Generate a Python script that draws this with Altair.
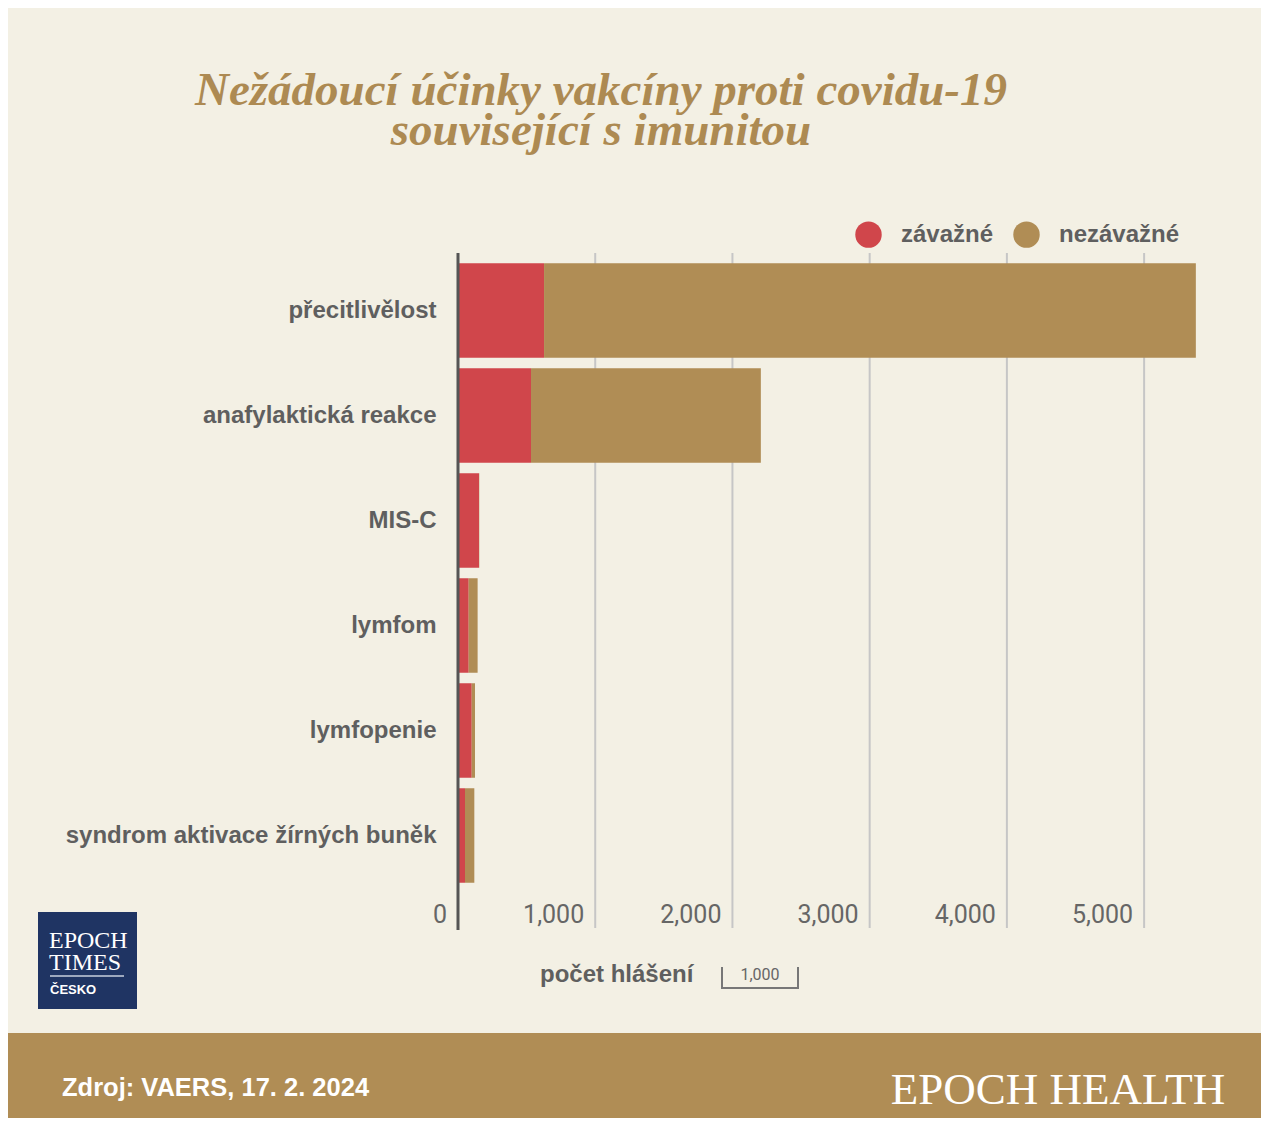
import altair as alt
import pandas as pd

# ---------------- data ----------------
categories = [
    "přecitlivělost",
    "anafylaktická reakce",
    "MIS-C",
    "lymfom",
    "lymfopenie",
    "syndrom aktivace žírných buněk",
]
serious = [627, 532, 153, 78, 100, 51]
non_serious = [4750, 1675, 2, 65, 24, 68]
series = ["závažné", "nezávažné"]
series_colors = ["#d0464b", "#b08d55"]
grid_values = [1000, 2000, 3000, 4000, 5000]
tick_values = [0, 1000, 2000, 3000, 4000, 5000]
tick_labels = ["0", "1,000", "2,000", "3,000", "4,000", "5,000"]

title_line1 = "Nežádoucí účinky vakcíny proti covidu-19"
title_line2 = "související s imunitou"
axis_title = "počet hlášení"
scale_label = "1,000"
source_text = "Zdroj: VAERS, 17. 2. 2024"
brand_text = "EPOCH HEALTH"
logo_lines = ["EPOCH", "TIMES", "ČESKO"]

BG = "#f3f0e4"
GOLD = "#b08d55"
GRAY = "#5f5f5f"

rows = []
for c, s, n in zip(categories, serious, non_serious):
    rows.append({"kategorie": c, "typ": series[0], "počet": s, "pořadí": 0})
    rows.append({"kategorie": c, "typ": series[1], "počet": n, "pořadí": 1})
df = pd.DataFrame(rows)
grid_df = pd.DataFrame({"v": grid_values})
zero_df = pd.DataFrame({"v": [0]})
ticks_df = pd.DataFrame({"v": tick_values, "label": tick_labels})

xscale = alt.Scale(domain=[0, 5400], nice=False, zero=True)

grid = alt.Chart(grid_df).mark_rule(color="#c6c6c6", strokeWidth=2).encode(
    x=alt.X("v:Q", scale=xscale, axis=None),
    y=alt.value(-5),
    y2=alt.value(670),
)

bars = alt.Chart(df).mark_bar().encode(
    x=alt.X("počet:Q", stack="zero", scale=xscale, axis=None),
    y=alt.Y(
        "kategorie:N",
        sort=categories,
        scale=alt.Scale(paddingInner=0.1, paddingOuter=0.05),
        axis=alt.Axis(
            title=None, ticks=False, domain=False, labelPadding=22,
            labelFont="Liberation Sans", labelFontSize=24, labelFontWeight="bold",
            labelColor=GRAY, labelLimit=600,
        ),
    ),
    color=alt.Color(
        "typ:N",
        scale=alt.Scale(domain=series, range=series_colors),
        legend=alt.Legend(
            orient="none", legendX=397, legendY=-37, direction="horizontal",
            title=None, symbolType="circle", symbolSize=700, symbolStrokeWidth=0,
            labelFont="Liberation Sans", labelFontSize=24, labelFontWeight="bold",
            labelColor=GRAY, labelOffset=19, columnPadding=19, padding=0,
        ),
    ),
    order=alt.Order("pořadí:Q"),
)

axis_line = alt.Chart(zero_df).mark_rule(color="#555555", strokeWidth=3).encode(
    x=alt.X("v:Q", scale=xscale, axis=None),
    y=alt.value(-5),
    y2=alt.value(672),
)

tick_text = alt.Chart(ticks_df).mark_text(
    align="right", baseline="alphabetic", dx=-11, font="Roboto", fontSize=25, color="#666666"
).encode(
    x=alt.X("v:Q", scale=xscale, axis=None),
    y=alt.value(665),
    text="label:N",
)


def text_layer(txt, x, y, **kw):
    return alt.Chart(pd.DataFrame({"t": [txt]})).mark_text(**kw).encode(
        x=alt.value(x), y=alt.value(y), text="t:N"
    )


def rect_layer(x, x2, y, y2, color):
    return alt.Chart(pd.DataFrame({"a": [1]})).mark_rect(color=color).encode(
        x=alt.value(x), x2=alt.value(x2), y=alt.value(y), y2=alt.value(y2)
    )


def rule_layer(x, x2, y, y2, color, w):
    return alt.Chart(pd.DataFrame({"a": [1]})).mark_rule(color=color, strokeWidth=w).encode(
        x=alt.value(x), x2=alt.value(x2), y=alt.value(y), y2=alt.value(y2)
    )


serif_title = dict(font="Liberation Serif", fontSize=47, fontStyle="italic", fontWeight="bold",
                   color="#ad8a52", align="center", baseline="alphabetic")
title1 = text_layer(title_line1, 143, -153, **serif_title)
title2 = text_layer(title_line2, 143, -113, **serif_title)

axis_lbl = text_layer(axis_title, 82, 724, font="Liberation Sans", fontSize=24, fontWeight="bold",
                      color=GRAY, align="left", baseline="alphabetic")
br_left = rule_layer(264, 264, 709, 730, "#777777", 2)
br_right = rule_layer(340, 340, 709, 730, "#777777", 2)
br_bottom = rule_layer(263, 341, 730, 730, "#777777", 2)
br_text = text_layer(scale_label, 302, 722, font="Roboto", fontSize=16, color="#666666",
                     align="center", baseline="alphabetic")

logo_box = rect_layer(-420, -321, 654, 751, "#1f3463")
logo1 = text_layer(logo_lines[0], -409, 690, font="Liberation Serif", fontSize=24, color="white",
                   align="left", baseline="alphabetic")
logo2 = text_layer(logo_lines[1], -409, 712, font="Liberation Serif", fontSize=24, color="white",
                   align="left", baseline="alphabetic")
logo_rule = rule_layer(-408, -334, 718, 718, "#c9cfdc", 1.5)
logo3 = text_layer(logo_lines[2], -408, 736, font="Liberation Sans", fontSize=13, fontWeight="bold",
                   color="white", align="left", baseline="alphabetic")

footer = rect_layer(-450, 820, 775, 880, GOLD)
source = text_layer(source_text, -396, 838, font="Liberation Sans", fontSize=25.5, fontWeight="bold",
                    color="white", align="left", baseline="alphabetic")
brand = text_layer(brand_text, 600, 846, font="Liberation Serif", fontSize=45, color="white",
                   align="center", baseline="alphabetic")

chart = alt.layer(
    grid, bars, axis_line, tick_text,
    title1, title2, axis_lbl, br_left, br_right, br_bottom, br_text,
    logo_box, logo1, logo2, logo_rule, logo3,
    footer, source, brand,
).properties(
    width=741,
    height=630,
    autosize=alt.AutoSizeParams(type="none"),
    padding={"left": 450, "top": 250, "right": 62, "bottom": 230},
).configure(
    background=BG,
).configure_view(
    strokeWidth=0,
)

chart.save("out.html", embed_options={"renderer": "svg", "actions": False})
